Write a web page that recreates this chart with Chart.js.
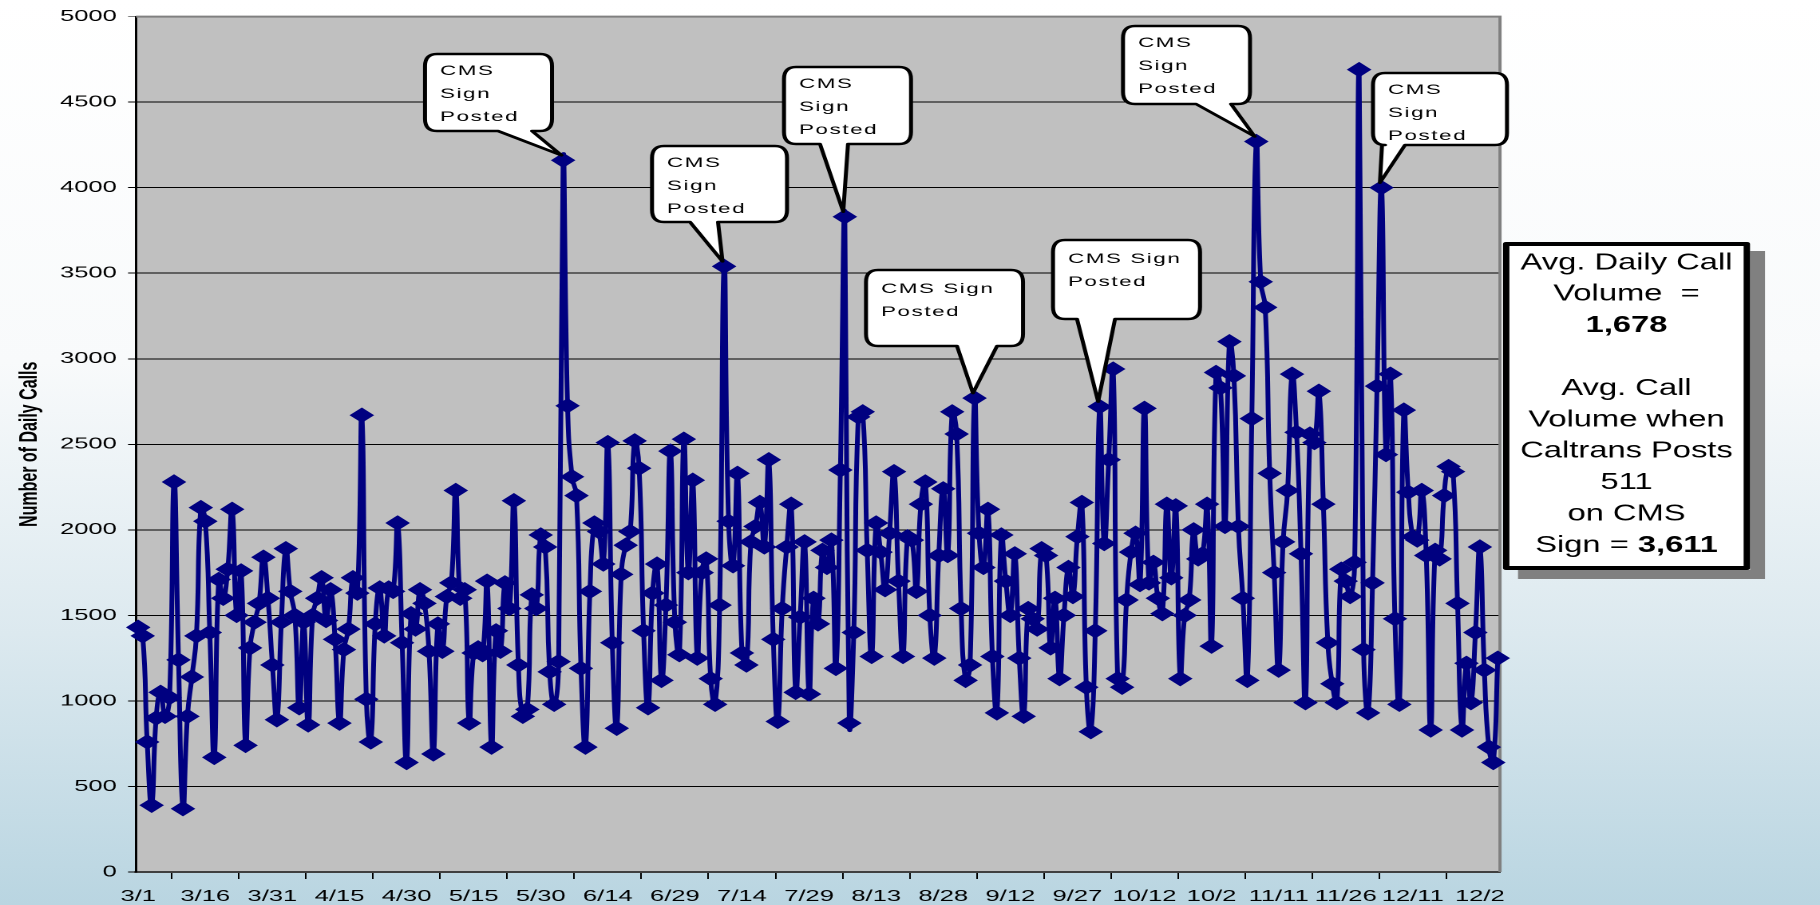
<!DOCTYPE html>
<html>
<head>
<meta charset="utf-8">
<title>Number of Daily Calls</title>
<script src="https://cdn.jsdelivr.net/npm/chart.js@4.4.1/dist/chart.umd.min.js"></script>
<style>
  html, body { margin: 0; padding: 0; }
  body {
    width: 1820px; height: 905px; overflow: hidden;
    background: linear-gradient(to bottom, #ffffff 0%, #f8fafb 40%, #dce9ef 70%, #b9d5e1 100%);
  }
  /* the original chart is stretched sideways, so draw narrow and widen */
  #wrap {
    position: absolute; left: 0; top: 0;
    width: 1140px; height: 905px;
    transform: scaleX(1.596491); transform-origin: 0 0;
  }
</style>
</head>
<body>
<div id="wrap"><canvas id="callsChart"></canvas></div>
<script>
// Daily call volume, 3/1 .. 12/30, one array per month
const callsMar = [1430,1380,760,390,900,1050,910,1020,2280,1240,370,910,1140,1380,2130,2050,1400,670,1710,1600,1770,2120,1500,1760,740,1310,1460,1570,1840,1600,1210];
const callsApr = [890,1460,1890,1640,1500,960,1460,860,1500,1600,1720,1470,1650,1360,870,1300,1420,1720,1630,2670,1010,760,1450,1660,1380,1660,1640,2040,1340,640];
const callsMay = [1510,1420,1650,1570,1290,690,1450,1290,1610,1690,2230,1600,1650,870,1280,1310,1270,1700,730,1410,1290,1690,1540,2170,1210,910,950,1620,1540,1970,1900];
const callsJun = [1170,980,1230,4160,2725,2310,2200,1190,730,1640,2040,1990,1800,2510,1340,840,1740,1910,1990,2520,2360,1410,960,1630,1800,1120,1560,2460,1460,1270];
const callsJul = [2530,1750,2290,1250,1750,1830,1130,980,1560,3540,2050,1790,2330,1280,1210,1930,2020,2160,1900,2410,1360,880,1540,1900,2150,1050,1490,1930,1040,1600,1450];
const callsAug = [1880,1780,1940,1190,2350,3830,870,1400,2660,2690,1880,1260,2040,1870,1650,1980,2340,1700,1260,1960,1940,1640,2150,2280,1500,1250,1850,2240,1850,2690,2560];
const callsSep = [1540,1120,1210,2770,1980,1780,2120,1260,930,1970,1700,1500,1860,1250,910,1540,1480,1420,1890,1850,1310,1600,1130,1500,1780,1610,1960,2160,1080,820];
const callsOct = [1410,2720,1920,2410,2940,1130,1080,1590,1870,1980,1680,2710,1690,1810,1600,1510,2150,1720,2140,1130,1500,1590,2000,1830,1860,2150,1320,2920,2830,2020,3100];
const callsNov = [2900,2020,1600,1120,2650,4270,3450,3300,2330,1750,1180,1930,2230,2910,2570,1860,990,2560,2510,2810,2150,1340,1100,990,1770,1700,1610,1810,4690,1300];
const callsDec = [930,1690,2840,4000,2440,2910,1480,980,2700,2220,1960,1940,2230,1850,830,1880,1830,2200,2370,2340,1570,830,1220,990,1400,1900,1180,730,640,1250];

// x axis labels as printed (every 15th day)
const tickLabels = ['3/1','3/16','3/31','4/15','4/30','5/15','5/30','6/14','6/29','7/14','7/29',
  '8/13','8/28','9/12','9/27','10/12','10/2','11/11','11/26','12/11','12/2'];
const yTicks = [0, 500, 1000, 1500, 2000, 2500, 3000, 3500, 4000, 4500, 5000];

// callouts: which day they point at and their text
const calloutDays = [95, 131, 158, 187, 215, 250, 278];
const calloutText = [
  ['CMS', 'Sign', 'Posted'],
  ['CMS', 'Sign', 'Posted'],
  ['CMS', 'Sign', 'Posted'],
  ['CMS Sign', 'Posted'],
  ['CMS Sign', 'Posted'],
  ['CMS', 'Sign', 'Posted'],
  ['CMS', 'Sign', 'Posted']
];
const infoText = [
  [['Avg. Daily Call', false]],
  [['Volume  =', false]],
  [['1,678', true]],
  [],
  [['Avg. Call', false]],
  [['Volume when', false]],
  [['Caltrans Posts', false]],
  [['511', false]],
  [['on CMS', false]],
  [['Sign = ', false], ['3,611', true]]
];

const calls = [].concat(callsMar, callsApr, callsMay, callsJun, callsJul,
  callsAug, callsSep, callsOct, callsNov, callsDec);
const dayLabels = calls.map((v, i) => {
  const d = new Date(2007, 2, 1 + i);
  return (d.getMonth() + 1) + '/' + d.getDate();
});

// --- layout (in page pixels, before the sideways stretch) ---
const S = 1820 / 1140;
const px = x => x / S;
const FONT = '"Liberation Sans", Arial, sans-serif';
// [left, top, right, bottom] and pointer base [x1, x2]
const calloutBoxes = [
  {box: [425, 54, 552, 131], base: [498, 532]},
  {box: [652, 146, 787, 222], base: [690, 718]},
  {box: [784, 67, 911, 144], base: [820, 848]},
  {box: [866, 270, 1023, 346], base: [957, 997]},
  {box: [1053, 240, 1200, 319], base: [1077, 1115]},
  {box: [1123, 26, 1250, 104], base: [1196, 1231]},
  {box: [1373, 73, 1507, 145], base: [1382, 1405]}
];
const infoBox = {left: 1503, top: 242, right: 1750, bottom: 570, dx: 15, dy: 9, squeeze: 0.89};

function calloutPath(ctx, l, t, r, b, rx, ry, b1, b2, tx, ty) {
  ctx.beginPath();
  ctx.moveTo(l + rx, t);
  ctx.lineTo(r - rx, t);
  ctx.quadraticCurveTo(r, t, r, t + ry);
  ctx.lineTo(r, b - ry);
  ctx.quadraticCurveTo(r, b, r - rx, b);
  ctx.lineTo(b2, b);
  ctx.lineTo(tx, ty);
  ctx.lineTo(b1, b);
  ctx.lineTo(l + rx, b);
  ctx.quadraticCurveTo(l, b, l, b - ry);
  ctx.lineTo(l, t + ry);
  ctx.quadraticCurveTo(l, t, l + rx, t);
  ctx.closePath();
}

const decorPlugin = {
  id: 'decor',
  beforeDraw(chart) {
    const {ctx, chartArea: a} = chart;
    ctx.save();
    ctx.fillStyle = '#c0c0c0';
    ctx.fillRect(a.left, a.top, a.right - a.left, a.bottom - a.top);
    ctx.restore();
  },
  beforeDatasetsDraw(chart) {
    const {ctx, chartArea: a} = chart;
    ctx.save();
    ctx.strokeStyle = '#808080';
    ctx.lineWidth = 2;
    ctx.beginPath();
    ctx.moveTo(a.left, a.top);
    ctx.lineTo(a.right, a.top);
    ctx.lineTo(a.right, a.bottom);
    ctx.stroke();
    ctx.restore();
  },
  afterDraw(chart) {
    const ctx = chart.ctx;
    const pts = chart.getDatasetMeta(0).data;
    ctx.save();

    // callouts
    calloutDays.forEach((day, k) => {
      const c = calloutBoxes[k];
      const [l, t, r, b] = c.box;
      const p = pts[day];
      ctx.fillStyle = '#ffffff';
      ctx.strokeStyle = '#000000';
      ctx.lineWidth = 2.5;
      ctx.lineJoin = 'round';
      calloutPath(ctx, px(l), t, px(r), b, px(12), 12, px(c.base[0]), px(c.base[1]), p.x - 1, p.y - 5);
      ctx.fill();
      ctx.stroke();
      const lines = calloutText[k];
      const y0 = lines.length === 3 ? t + 17 : t + 19;
      ctx.fillStyle = '#000000';
      ctx.font = '14px ' + FONT;
      ctx.letterSpacing = '1px';
      ctx.textAlign = 'left';
      ctx.textBaseline = 'middle';
      lines.forEach((s, i) => ctx.fillText(s, px(l + 15), y0 + i * 23));
    });
    ctx.letterSpacing = '0px';

    // summary box
    const ib = infoBox;
    ctx.fillStyle = '#808080';
    ctx.fillRect(px(ib.left + ib.dx), ib.top + ib.dy, px(ib.right - ib.left), ib.bottom - ib.top);
    ctx.fillStyle = '#ffffff';
    ctx.fillRect(px(ib.left), ib.top, px(ib.right - ib.left), ib.bottom - ib.top);
    ctx.strokeStyle = '#000000';
    ctx.lineWidth = 4;
    ctx.strokeRect(px(ib.left) + 2, ib.top + 2, px(ib.right - ib.left) - 4, ib.bottom - ib.top - 4);

    ctx.translate(px((ib.left + ib.right) / 2), 0);
    ctx.scale(ib.squeeze, 1);
    ctx.fillStyle = '#000000';
    ctx.textBaseline = 'middle';
    ctx.textAlign = 'left';
    infoText.forEach((parts, i) => {
      if (!parts.length) return;
      const y = 263 + i * 31.4;
      let w = 0;
      parts.forEach(([s, bold]) => {
        ctx.font = (bold ? 'bold ' : '') + '23px ' + FONT;
        w += ctx.measureText(s).width;
      });
      let x = -w / 2;
      parts.forEach(([s, bold]) => {
        ctx.font = (bold ? 'bold ' : '') + '23px ' + FONT;
        ctx.fillText(s, x, y);
        x += ctx.measureText(s).width;
      });
    });
    ctx.restore();
  }
};

new Chart(document.getElementById('callsChart'), {
  type: 'line',
  data: {
    labels: dayLabels,
    datasets: [{
      label: 'Daily Calls',
      data: calls,
      borderColor: '#000080',
      borderWidth: 3,
      tension: 0.5,
      pointStyle: 'rectRot',
      pointRadius: 7,
      pointBorderWidth: 1,
      pointBackgroundColor: '#000080',
      pointBorderColor: '#000080'
    }]
  },
  options: {
    responsive: true,
    maintainAspectRatio: false,
    animation: false,
    devicePixelRatio: 2,
    layout: {padding: {left: 0, top: 13, right: 1140 - px(1500), bottom: 0}},
    plugins: {
      legend: {display: false},
      tooltip: {enabled: false}
    },
    scales: {
      x: {
        type: 'category',
        offset: true,
        afterFit: s => { s.height = 33; },
        grid: {offset: true, drawOnChartArea: false, color: '#000000', tickLength: 7},
        border: {color: '#404040', width: 2},
        ticks: {
          autoSkip: false,
          maxRotation: 0,
          minRotation: 0,
          padding: 8,
          color: '#000000',
          font: {family: FONT, size: 16},
          callback: (v, i) => (i % 15 === 0 ? tickLabels[i / 15] : null)
        }
      },
      y: {
        min: yTicks[0],
        max: yTicks[yTicks.length - 1],
        afterFit: s => { s.width = px(136); },
        afterBuildTicks: s => { s.ticks = yTicks.map(v => ({value: v})); },
        grid: {
          color: c => (c.tick && c.tick.value === 5000 ? '#808080' : '#000000'),
          lineWidth: 1,
          tickLength: 5
        },
        border: {color: '#000000', width: 1.5},
        ticks: {
          padding: 7,
          color: '#000000',
          font: {family: FONT, size: 16},
          callback: v => String(v)
        },
        title: {
          display: true,
          text: 'Number of Daily Calls',
          color: '#000000',
          font: {family: FONT, size: 16, weight: 'bold'},
          padding: {top: 9, bottom: 0}
        }
      }
    }
  },
  plugins: [decorPlugin]
});
</script>
</body>
</html>
